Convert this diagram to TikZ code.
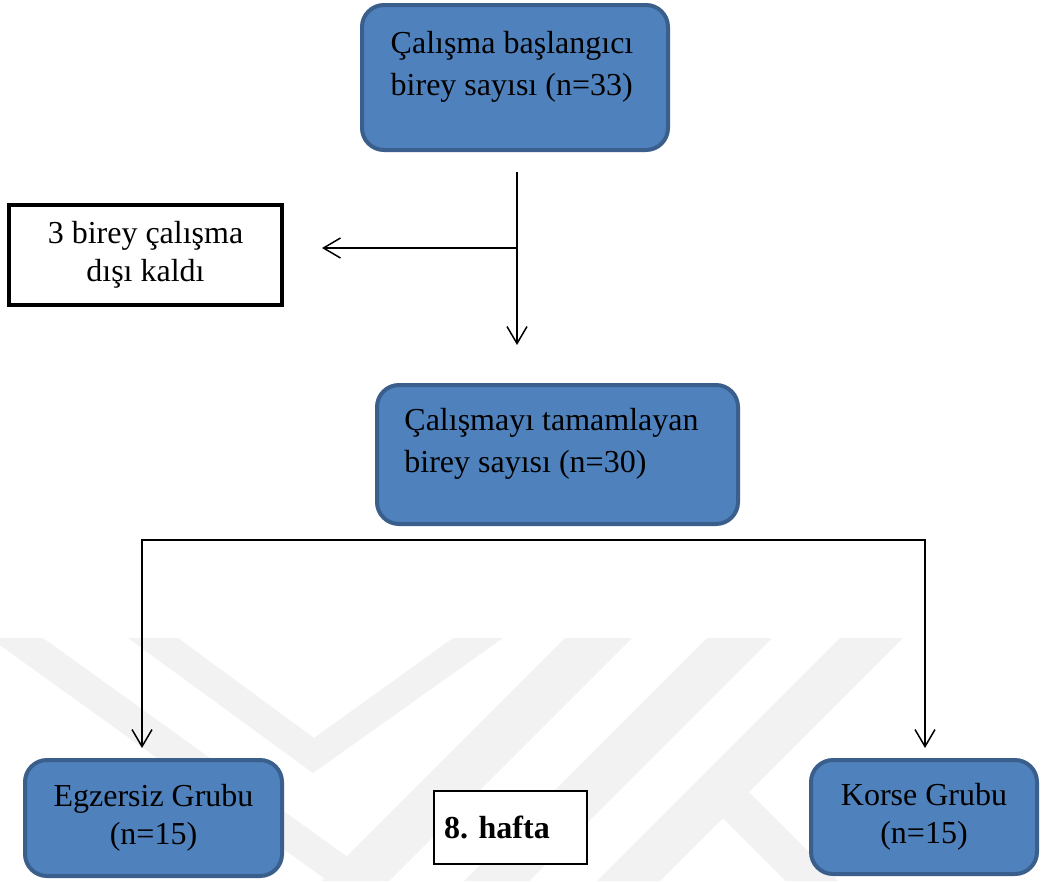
\documentclass[tikz,border=0pt]{standalone}
\usepackage{fontspec}
\setmainfont{Liberation Serif}
\usetikzlibrary{arrows.meta}
\definecolor{boxblue}{HTML}{4F81BD}
\definecolor{boxedge}{HTML}{3A5F8C}
\newcommand\boxfont{\fontsize{32}{38}\selectfont}
\frenchspacing
\tikzset{
  bluebox/.style={draw=boxedge, fill=boxblue, line width=4pt, rounded corners=22pt, inner sep=0pt, align=center, font=\boxfont},
  plainbox/.style={draw, fill=white, inner sep=0pt, font=\boxfont},
  boxtext/.style={align=left, inner sep=0pt, font=\fontsize{32}{42}\selectfont},
  link/.style={line width=1.5pt, -{Straight Barb[length=17pt,width=20pt]}},
  linkboth/.style={line width=1.5pt, {Straight Barb[length=17pt,width=20pt]}-{Straight Barb[length=17pt,width=20pt]}},
  wmband/.style={fill=black!5}
}

\begin{document}
\begin{tikzpicture}[x=1pt,y=-1pt]
  \path[use as bounding box, fill=white] (0,0) rectangle (1041,881);
  \begin{scope}
    \clip (0,0) rectangle (1041,881);
    \fill[wmband] (-10,638) -- (43,638) -- (381,881) -- (328,881) -- cycle;
    \fill[wmband] (128,638) -- (178,638) -- (314,738) -- (453,638) -- (503,638) -- (313,773) -- cycle;
    \fill[wmband] (565,638) -- (632,638) -- (389,881) -- (322,881) -- cycle;
    \fill[wmband] (707,638) -- (772,638) -- (529,881) -- (464,881) -- cycle;
    \fill[wmband] (840,638) -- (903,638) -- (660,881) -- (597,881) -- cycle;
    \fill[wmband] (723,818) -- (749,792) -- (838,881) -- (786,881) -- cycle;
  \end{scope}

  \node[bluebox, minimum width=306pt, minimum height=145pt] (start) at (515,77.5) {};
  \node[boxtext] (startText) at ([xshift=-3pt,yshift=11pt]start.center) {Çalışma başlangıcı\\birey sayısı (n=33)};
  \node[plainbox, line width=4pt, minimum width=273pt, minimum height=100pt, align=center] (excl) at (145.5,255) {3 birey çalışma\\dışı kaldı};
  \node[bluebox, minimum width=361pt, minimum height=139pt] (done) at (557.5,454.5) {};
  \node[boxtext] (doneText) at ([xshift=-6pt,yshift=11pt]done.center) {Çalışmayı tamamlayan\\birey sayısı (n=30)};
  \node[bluebox, minimum width=257pt, minimum height=116pt] (egz) at (153.5,818) {Egzersiz Grubu\\(n=15)};
  \node[bluebox, minimum width=226pt, minimum height=114pt] (korse) at (924,817) {Korse Grubu\\(n=15)};
  \node[plainbox, line width=1.2pt, minimum height=73pt, inner xsep=10pt, text width=133pt, align=left, font=\boxfont\bfseries] (week) at (510.5,827.5) {8. hafta};

  \coordinate (fromStart) at (517,172);
  \coordinate (split) at (517,248);
  \coordinate (toExcl) at (322,248);
  \coordinate (toDone) at (517,345);
  \coordinate (toEgz) at (142,748);
  \coordinate (barL) at (142,540);
  \coordinate (barR) at (925,540);
  \coordinate (toKorse) at (925,748);

  \draw[link] (fromStart) -- (toDone);
  \draw[link] (split) -- (toExcl);
  \draw[linkboth] (toEgz) -- (barL) -- (barR) -- (toKorse);
\end{tikzpicture}
\end{document}
